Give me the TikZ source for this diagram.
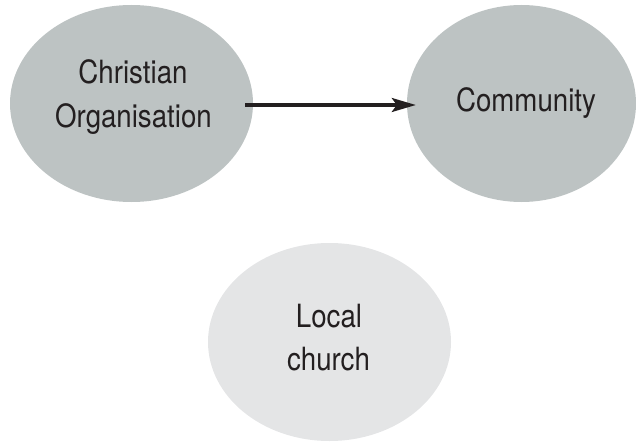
\documentclass[tikz,border=0pt]{standalone}
\usepackage{fontspec}
\setmainfont{TeX Gyre Heros}[FakeStretch=0.865]
\usetikzlibrary{arrows.meta,shapes.geometric}
\definecolor{blobdark}{HTML}{BDC3C3}
\definecolor{bloblight}{HTML}{E4E5E6}
\definecolor{ink}{HTML}{231F20}
\tikzset{
  blob/.style={ellipse, draw=none, inner sep=0pt},
  lbl/.style={anchor=base, inner sep=0pt, text=ink, font=\fontsize{32}{42}\selectfont},
  link/.style={draw=ink, line width=3pt, -{Stealth[length=24pt, width=14pt, inset=5pt]}}
}
\begin{document}
\begin{tikzpicture}[x=1pt, y=-1pt]
\useasboundingbox (0,0) rectangle (636,441);
\node[blob, fill=blobdark, minimum width=243pt, minimum height=197pt] (org) at (131.5,103.5) {};
\node[blob, fill=blobdark, minimum width=229pt, minimum height=197pt] (comm) at (521.5,103.5) {};
\node[blob, fill=bloblight, minimum width=243pt, minimum height=198pt] (church) at (329.5,342) {};
\node[lbl] (orgA) at (133,84) {Christian};
\node[lbl] (orgB) at (133.5,127) {Organisation};
\node[lbl] (commA) at (526,111) {Community};
\node[lbl] (churchA) at (329,327) {Local};
\node[lbl] (churchB) at (328.5,370) {church};
\draw[link] ([xshift=-8pt,yshift=-1.5pt]org.east) -- ([xshift=9pt,yshift=-1.5pt]comm.west);
\end{tikzpicture}
\end{document}
